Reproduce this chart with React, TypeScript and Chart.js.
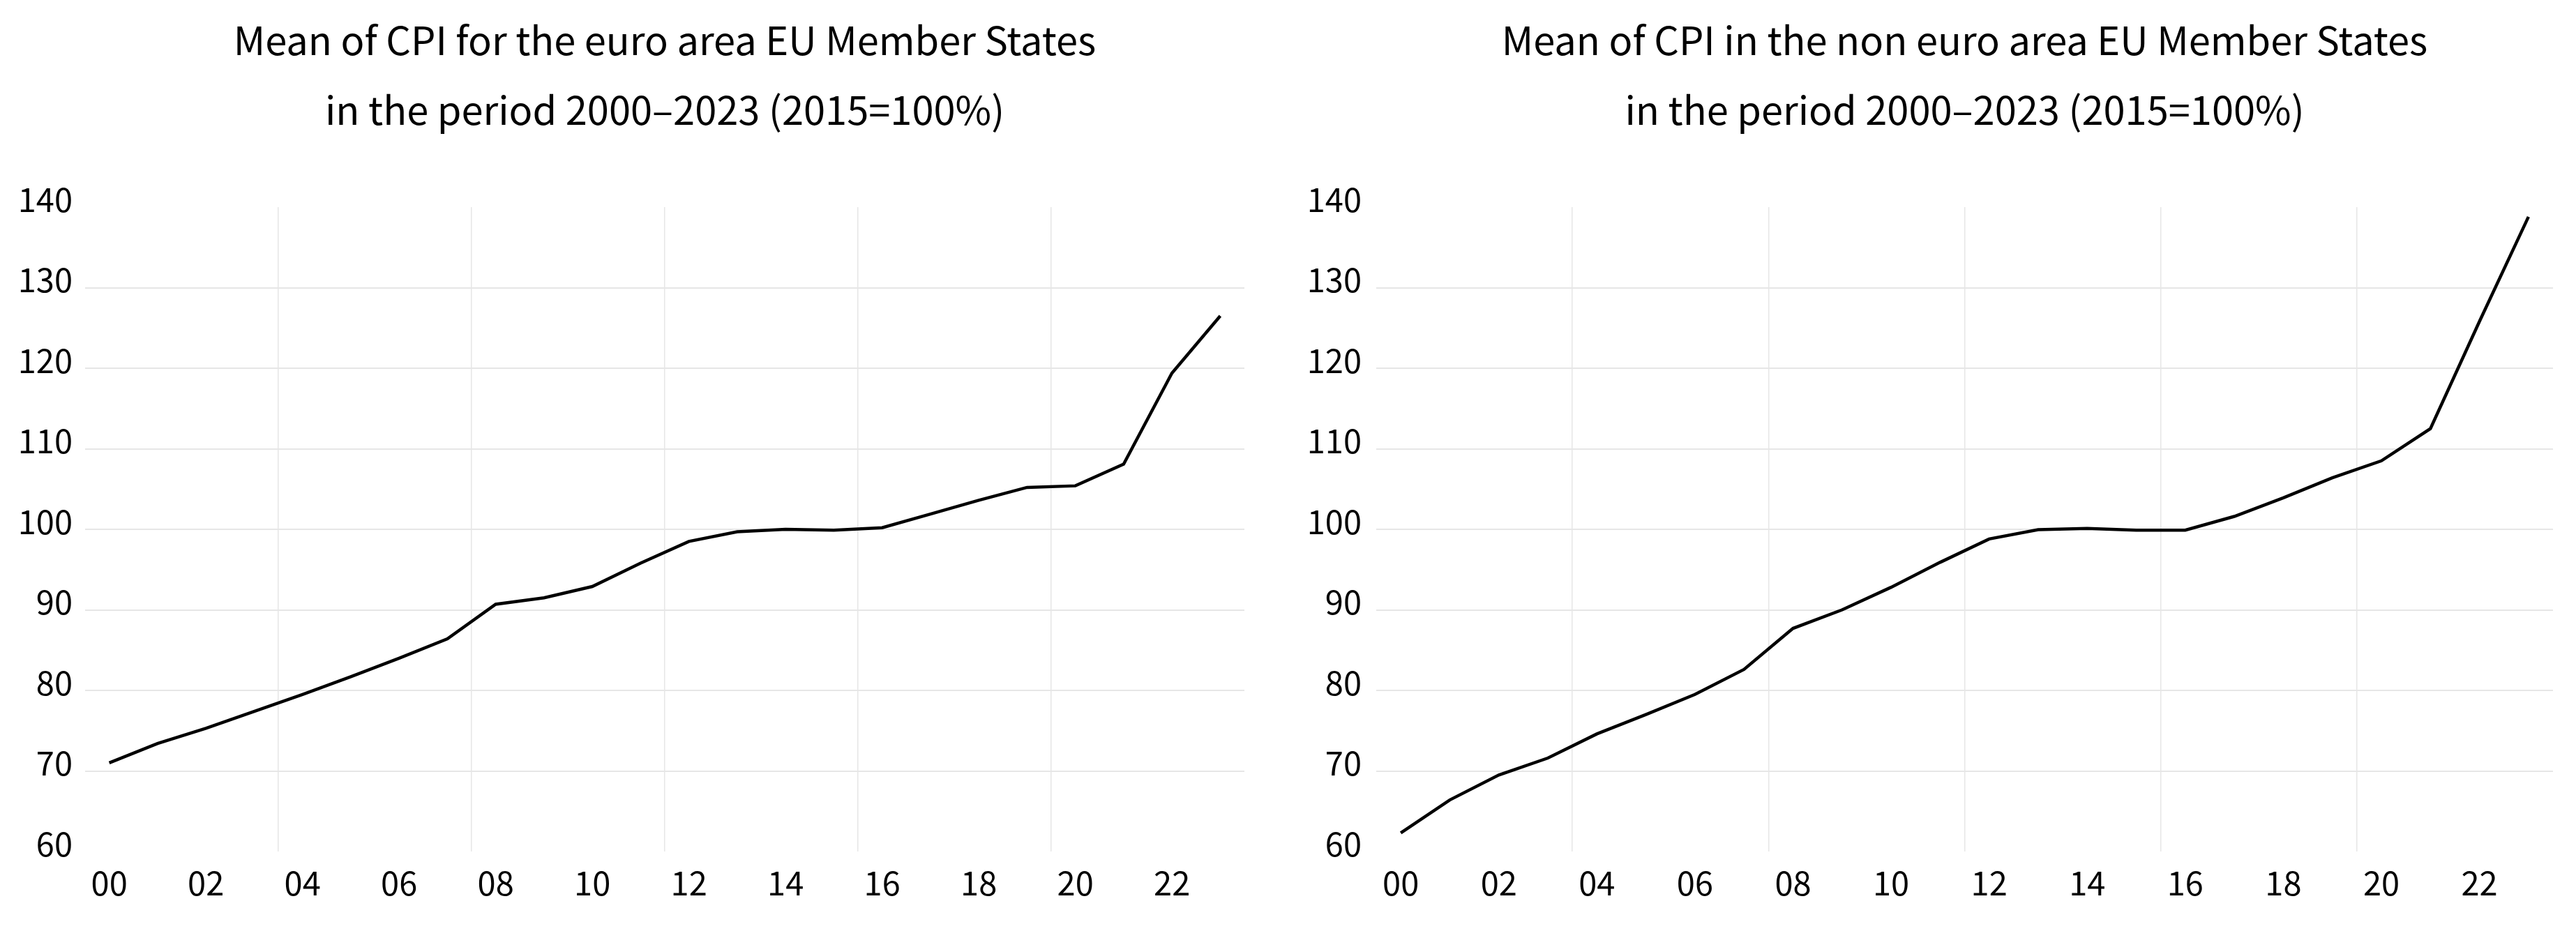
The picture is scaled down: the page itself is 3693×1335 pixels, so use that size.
import React, { useEffect, useRef } from "react";
import { Chart, registerables } from "chart.js";

Chart.register(...registerables);

const years: string[] = [
  "00", "01", "02", "03", "04", "05", "06", "07", "08", "09", "10", "11",
  "12", "13", "14", "15", "16", "17", "18", "19", "20", "21", "22", "23",
];

const euroAreaCPI: number[] = [
  71.0, 73.4, 75.3, 77.4, 79.5, 81.7, 84.0, 86.4, 90.7, 91.5, 92.9, 95.8,
  98.5, 99.7, 100.0, 99.9, 100.2, 101.9, 103.6, 105.2, 105.4, 108.1, 119.4, 126.5,
];

const nonEuroAreaCPI: number[] = [
  62.3, 66.4, 69.5, 71.6, 74.6, 77.0, 79.5, 82.6, 87.7, 90.0, 92.8, 95.9,
  98.8, 99.95, 100.1, 99.9, 99.9, 101.6, 103.9, 106.4, 108.5, 112.5, 125.8, 138.8,
];

const leftTitle: string[] = [
  "Mean of CPI for the euro area EU Member States",
  "in the period 2000\u20132023 (2015=100%)",
];
const rightTitle: string[] = [
  "Mean of CPI in the non euro area EU Member States",
  "in the period 2000\u20132023 (2015=100%)",
];

const yMin = 60;
const yMax = 140;
const yStep = 10;

const FONT = "'Noto Sans CJK SC', 'Liberation Sans', Arial, sans-serif";

type PanelProps = {
  title: string[];
  values: number[];
  yAxisWidth: number;
  yLabelPad: number;
  padRight: number;
};

function Panel({ title, values, yAxisWidth, yLabelPad, padRight }: PanelProps) {
  const ref = useRef<HTMLCanvasElement | null>(null);
  useEffect(() => {
    if (!ref.current) return;
    const chart = new Chart(ref.current, {
      type: "line",
      data: {
        labels: years,
        datasets: [
          {
            data: values,
            borderColor: "#000000",
            backgroundColor: "#000000",
            borderWidth: 4.5,
            pointRadius: 0,
            tension: 0,
            fill: false,
          },
        ],
      },
      options: {
        animation: false,
        responsive: true,
        maintainAspectRatio: false,
        layout: { padding: { left: 0, right: padRight, top: 0, bottom: 0 } },
        plugins: {
          legend: { display: false },
          tooltip: { enabled: false },
          title: {
            display: true,
            text: title,
            fullSize: false,
            color: "#000000",
            font: { family: FONT, size: 56, weight: "normal", lineHeight: 100 / 56 },
            padding: { top: 8, bottom: 89 },
          },
        },
        scales: {
          x: {
            type: "category",
            offset: true,
            border: { display: false },
            grid: {
              offset: true,
              drawTicks: false,
              lineWidth: 1.5,
              color: (ctx: any) =>
                ctx.index > 0 && ctx.index < years.length && ctx.index % 4 === 0
                  ? "#e6e6e6"
                  : "rgba(0,0,0,0)",
            },
            ticks: {
              autoSkip: false,
              maxRotation: 0,
              minRotation: 0,
              padding: 17,
              color: "#000000",
              font: { family: FONT, size: 47, lineHeight: 1.2 },
              callback: (_v: any, i: number) => (i % 2 === 0 ? years[i] : ""),
            },
            afterFit: (scale: any) => {
              scale.height = 114;
            },
          },
          y: {
            min: yMin,
            max: yMax,
            border: { display: false },
            grid: {
              drawTicks: false,
              lineWidth: 2,
              color: (ctx: any) =>
                ctx.tick && (ctx.tick.value === yMin || ctx.tick.value === yMax)
                  ? "rgba(0,0,0,0)"
                  : "#e6e6e6",
            },
            ticks: {
              stepSize: yStep,
              padding: yLabelPad,
              labelOffset: -11,
              color: "#000000",
              font: { family: FONT, size: 47 },
            },
            afterFit: (scale: any) => {
              scale.width = yAxisWidth;
            },
          },
        },
      },
    });
    return () => chart.destroy();
  }, [title, values, yAxisWidth, yLabelPad, padRight]);
  return <canvas ref={ref} />;
}

export default function App() {
  return (
    <div
      style={{
        position: "absolute",
        left: 0,
        top: 0,
        width: 3693,
        height: 1335,
        display: "flex",
        background: "#ffffff",
      }}
    >
      <div style={{ position: "relative", width: 1846, height: 1335 }}>
        <Panel title={leftTitle} values={euroAreaCPI} yAxisWidth={122} yLabelPad={18} padRight={62} />
      </div>
      <div style={{ position: "relative", width: 1847, height: 1335 }}>
        <Panel title={rightTitle} values={nonEuroAreaCPI} yAxisWidth={127} yLabelPad={21} padRight={33} />
      </div>
    </div>
  );
}
